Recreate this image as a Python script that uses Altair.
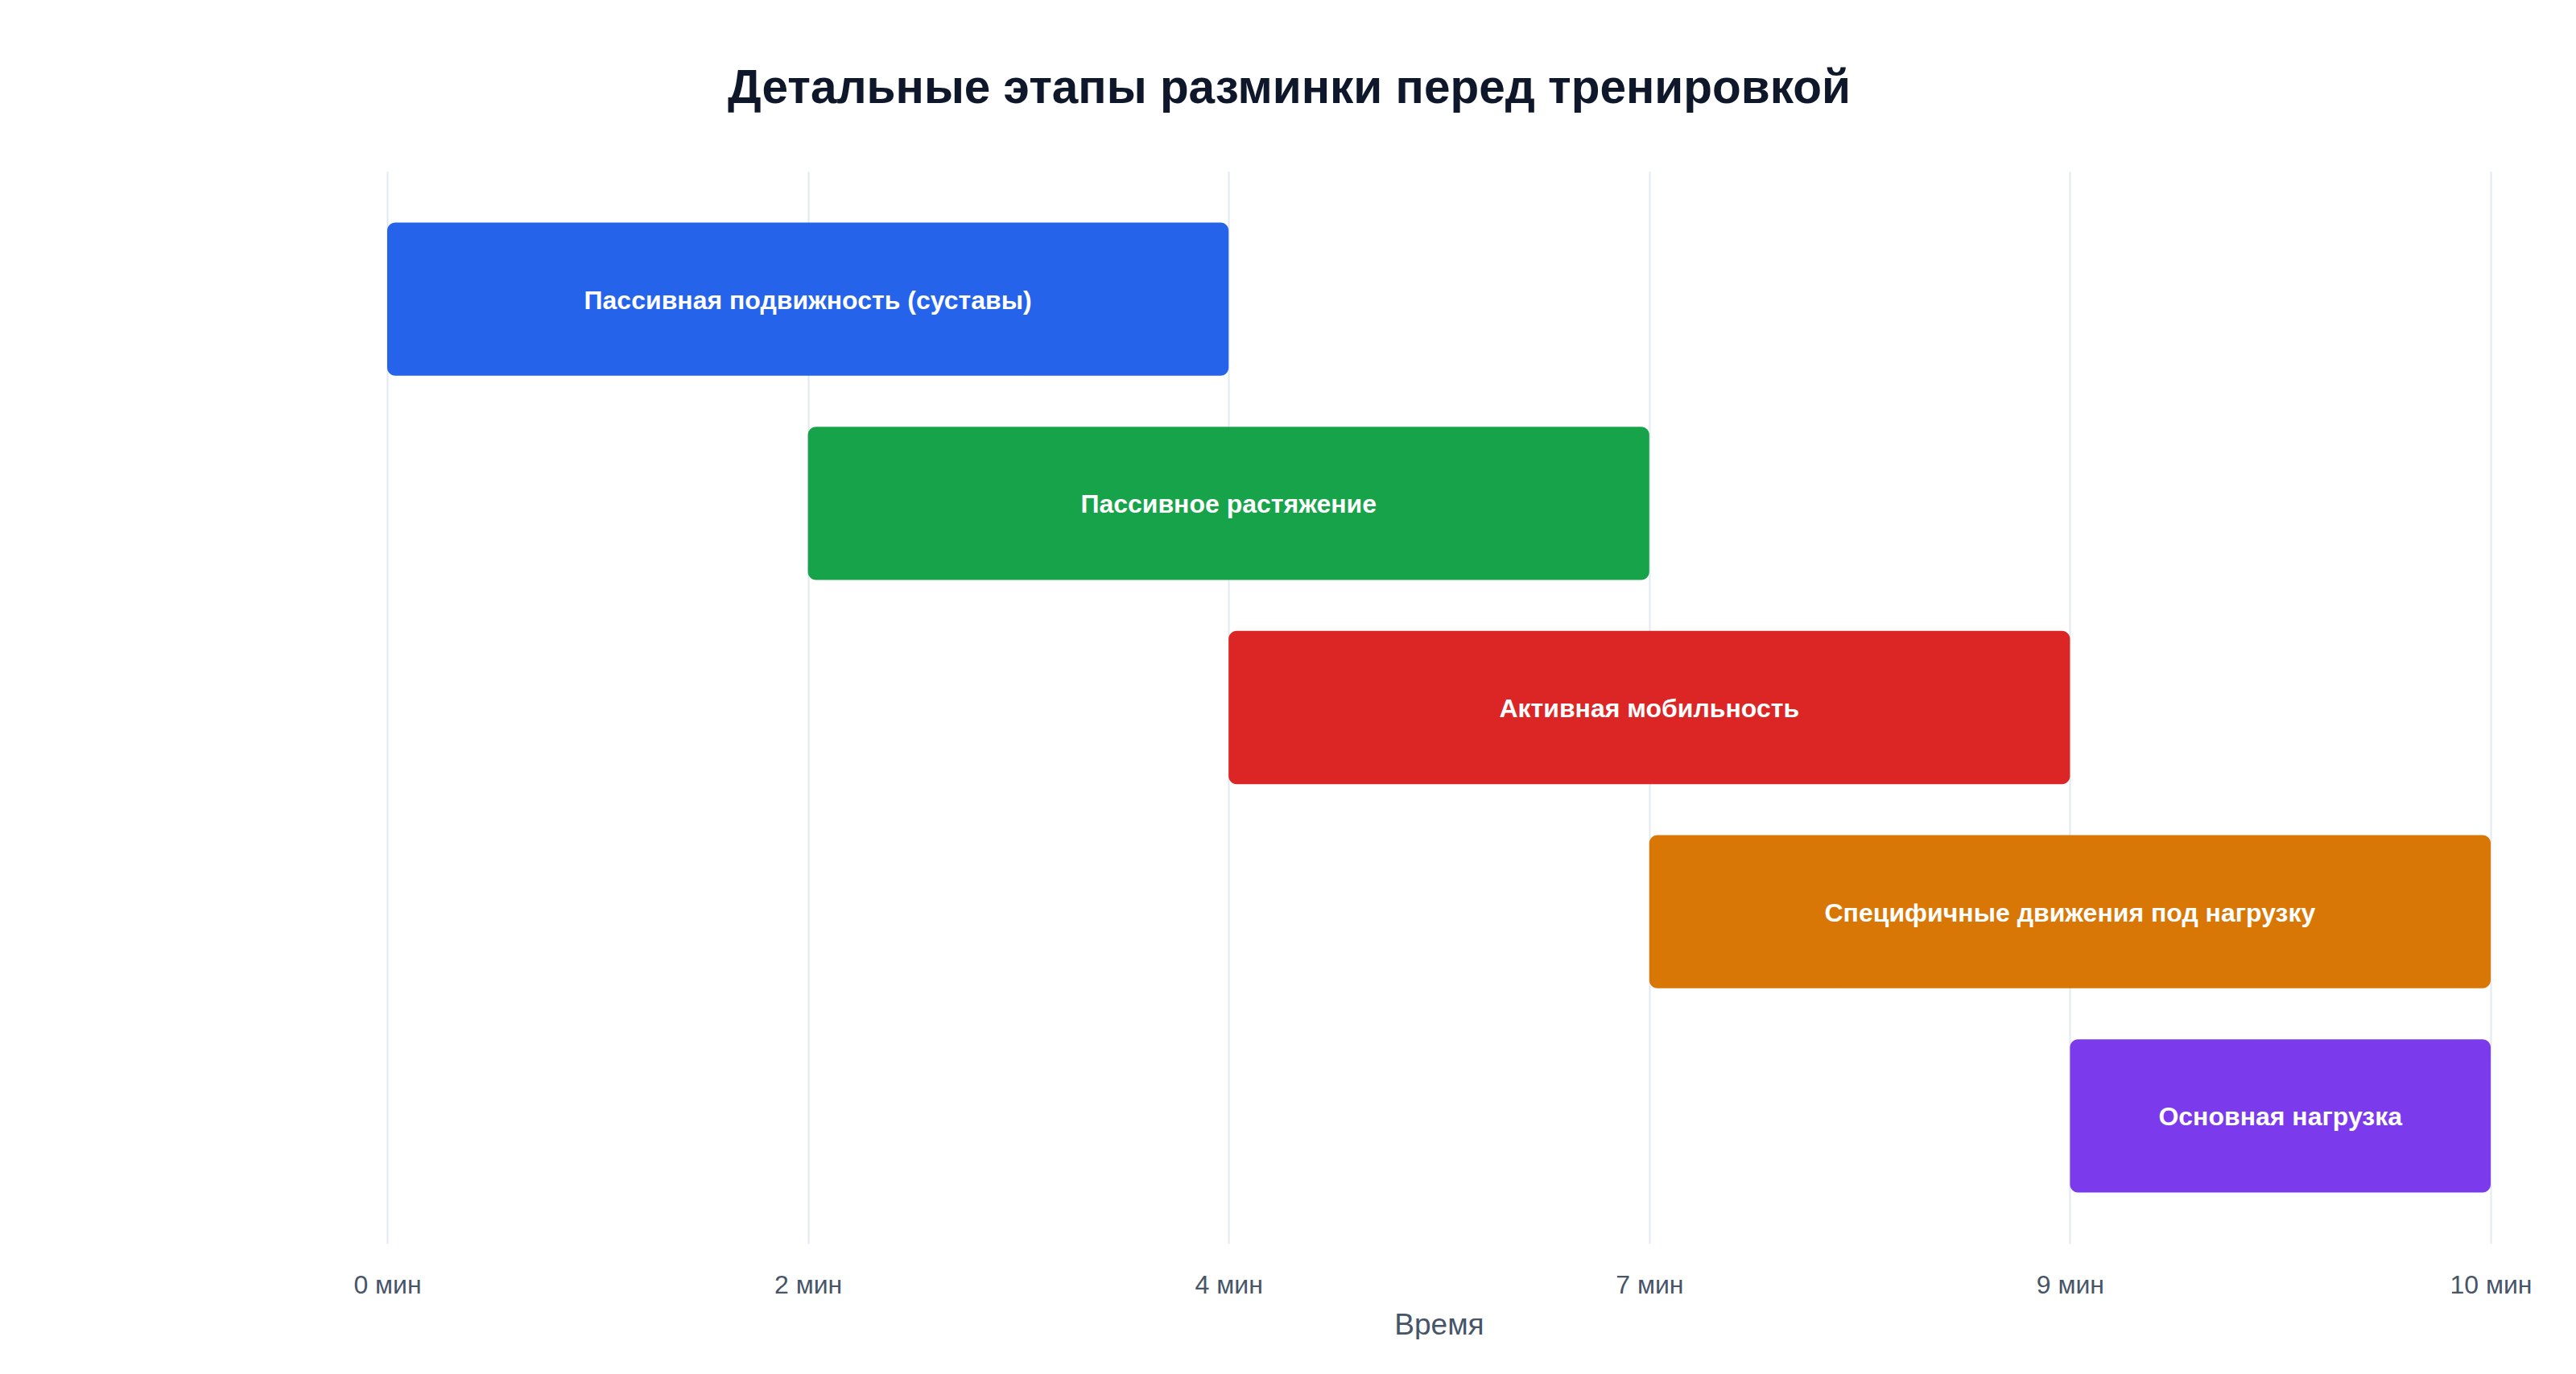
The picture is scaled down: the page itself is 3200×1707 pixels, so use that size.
import altair as alt
import pandas as pd

# Этапы разминки и их границы на шкале времени
stages = [
    "Пассивная подвижность (суставы)",
    "Пассивное растяжение",
    "Активная мобильность",
    "Специфичные движения под нагрузку",
    "Основная нагрузка",
]
starts = ["0 мин", "2 мин", "4 мин", "7 мин", "9 мин"]
ends = ["4 мин", "7 мин", "9 мин", "10 мин", "10 мин"]
time_ticks = ["0 мин", "2 мин", "4 мин", "7 мин", "9 мин", "10 мин"]
colors = ["#2563EB", "#16A34A", "#DC2626", "#D97706", "#7C3AED"]

df = pd.DataFrame({
    "stage": stages,
    "start": [time_ticks.index(s) for s in starts],
    "end": [time_ticks.index(e) for e in ends],
})

FONT = "Liberation Sans"
labels_js = "[" + ",".join(f"'{t}'" for t in time_ticks) + "]"

x_scale = alt.Scale(domain=[0, len(time_ticks) - 1], nice=False, zero=False)
y_enc = alt.Y(
    "stage:N", sort=stages, axis=None,
    scale=alt.Scale(paddingInner=0.25, paddingOuter=0.25),
)

bars = alt.Chart(df).mark_bar(cornerRadius=10).encode(
    x=alt.X(
        "start:Q", scale=x_scale, title="Время",
        axis=alt.Axis(
            values=list(range(len(time_ticks))),
            labelExpr=f"{labels_js}[datum.value]",
            labelFlush=False,
            grid=True, gridColor="#E2E8F0", gridWidth=2,
            domain=False, ticks=False,
            labelFont=FONT, labelFontSize=32, labelColor="#475569",
            labelPadding=36,
            titleFont=FONT, titleFontSize=37, titleColor="#475569",
            titleFontWeight="normal", titlePadding=16,
        ),
    ),
    x2="end:Q",
    y=y_enc,
    color=alt.Color("stage:N", scale=alt.Scale(domain=stages, range=colors), legend=None),
)

labels = alt.Chart(df).transform_calculate(
    mid="(datum.start + datum.end) / 2"
).mark_text(
    color="white", font=FONT, fontSize=32, fontWeight="bold", baseline="middle", dy=2
).encode(
    x=alt.X("mid:Q", scale=x_scale),
    y=y_enc,
    text="stage:N",
)

chart = (bars + labels).properties(
    width=2613,
    height=1332,
    padding={"left": 430, "top": 72, "right": 0, "bottom": 0},
    title=alt.TitleParams(
        "Детальные этапы разминки перед тренировкой",
        font=FONT, fontSize=58.5, fontWeight="bold", color="#0F172A",
        anchor="middle", offset=73, dx=-186,
    ),
).configure_view(stroke=None)

chart.save("out.html", embed_options={"renderer": "svg", "actions": False})
